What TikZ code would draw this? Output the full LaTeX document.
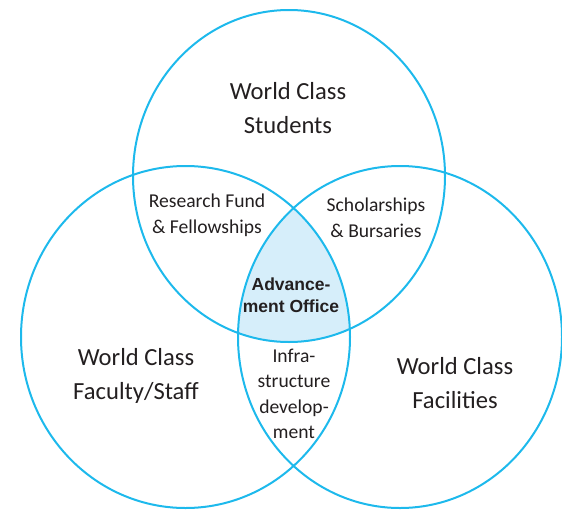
\documentclass[tikz,border=0pt]{standalone}
\usepackage{fontspec}
\setmainfont{Carlito}
\newfontfamily\boldsans{Liberation Sans}
\usepackage{xcolor}
\definecolor{ringblue}{RGB}{29,185,236}
\definecolor{lensblue}{RGB}{214,238,250}
\definecolor{inkgray}{RGB}{35,31,32}
\tikzset{
  ring/.style={draw=ringblue, line width=2pt},
  biglabel/.style={align=center, text=inkgray, inner sep=0pt, font=\fontsize{24.6}{34}\selectfont},
  smalllabel/.style={align=center, text=inkgray, inner sep=0pt, font=\fontsize{19.6}{25.5}\selectfont},
  officelabel/.style={align=center, text=inkgray, inner sep=0pt, font=\boldsans\bfseries\fontsize{17.5}{21.7}\selectfont}
}

\begin{document}
\begin{tikzpicture}[x=1pt, y=-1pt]
  \useasboundingbox (0, 0) rectangle (562, 514);
  % shaded middle
  \begin{scope}
    \clip (289, 176) ellipse [x radius=156, y radius=166];
    \clip (185.5, 337) ellipse [x radius=164.5, y radius=171];
    \fill [lensblue] (400, 337) ellipse [x radius=162, y radius=171];
  \end{scope}
  % the three rings
  \draw [ring] (289, 176) ellipse [x radius=156, y radius=166];
  \draw [ring] (185.5, 337) ellipse [x radius=164.5, y radius=171];
  \draw [ring] (400, 337) ellipse [x radius=162, y radius=171];
  % outer labels
  \node [biglabel] (students) at (288, 108) {World Class\\Students};
  \node [biglabel] (faculty) at (136, 376) {World Class\\Faculty/Staff};
  \node [biglabel] (facilities) at (455, 383) {World Class\\Facilities};
  % overlaps
  \node [smalllabel] (research) at (207, 215.5) {Research Fund\\\& Fellowships};
  \node [smalllabel] (scholar) at (376, 218) {Scholarships\\\& Bursaries};
  \node [smalllabel] (infra) at (294, 394) {Infra-\\structure\\develop-\\ment};
  \node [officelabel] (advance) at (291, 295.5) {Advance-\\ment Office};
\end{tikzpicture}
\end{document}
